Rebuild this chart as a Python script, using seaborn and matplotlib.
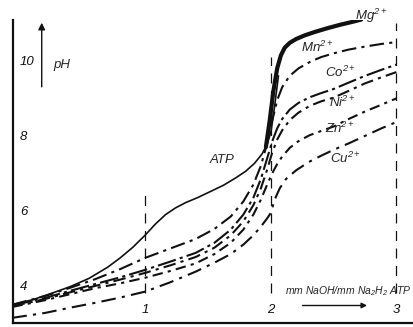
import matplotlib
matplotlib.use("Agg")
import matplotlib.pyplot as plt
import seaborn as sns

# ---- data (x = mm NaOH / mm Na2H2ATP, y = pH) ----
atp_x = [-0.06, 0.1, 0.25, 0.4, 0.55, 0.7, 0.8, 0.9, 1.0, 1.08, 1.16, 1.24, 1.32, 1.42,
         1.52, 1.62, 1.72, 1.8, 1.87, 1.93, 1.97, 2.0, 2.03, 2.06]
atp_ph = [3.5, 3.63, 3.8, 3.98, 4.2, 4.5, 4.75, 5.03, 5.36, 5.65, 5.9, 6.08, 6.22, 6.36,
          6.52, 6.68, 6.88, 7.06, 7.27, 7.52, 7.78, 8.1, 8.8, 9.6]

mg_x = [1.96, 1.99, 2.02, 2.05, 2.08, 2.11, 2.15, 2.2, 2.27, 2.35, 2.45, 2.55, 2.65, 2.72]
mg_ph = [7.7, 8.4, 9.2, 9.8, 10.15, 10.35, 10.48, 10.58, 10.68, 10.77, 10.87, 10.96, 11.04, 11.1]

# the metal curves share one set of read-off x positions
ion_x = [-0.06, 0.2, 0.4, 0.6, 0.8, 1.0, 1.2, 1.4, 1.55, 1.68, 1.78, 1.86, 1.92, 1.97,
         2.01, 2.05, 2.09, 2.15, 2.22, 2.31, 2.4, 2.5, 2.62, 2.75, 2.88, 3.0]
mn_ph = [3.5, 3.73, 3.95, 4.18, 4.45, 4.75, 5.0, 5.25, 5.52, 5.85, 6.25, 6.7, 7.2, 7.8,
         8.4, 8.95, 9.3, 9.6, 9.8, 9.97, 10.1, 10.2, 10.3, 10.38, 10.45, 10.5]
co_ph = [3.48, 3.68, 3.87, 4.05, 4.23, 4.43, 4.65, 4.88, 5.15, 5.5, 5.9, 6.35, 6.85, 7.4,
         7.85, 8.2, 8.45, 8.7, 8.88, 9.03, 9.14, 9.25, 9.42, 9.6, 9.76, 9.9]
ni_ph = [3.46, 3.65, 3.83, 4.0, 4.17, 4.35, 4.55, 4.77, 5.02, 5.35, 5.72, 6.15, 6.6, 7.1,
         7.55, 7.9, 8.15, 8.42, 8.62, 8.8, 8.92, 9.02, 9.2, 9.4, 9.56, 9.7]
zn_ph = [3.44, 3.62, 3.78, 3.94, 4.07, 4.22, 4.4, 4.6, 4.85, 5.15, 5.5, 5.9, 6.3, 6.7,
         7.0, 7.25, 7.45, 7.68, 7.86, 8.02, 8.13, 8.25, 8.45, 8.65, 8.83, 9.0]

cu_x = [-0.06, 0.2, 0.4, 0.6, 0.8, 1.0, 1.2, 1.4, 1.55, 1.68, 1.78, 1.86, 1.92, 1.97,
        2.0, 2.03, 2.07, 2.12, 2.2, 2.3, 2.4, 2.5, 2.62, 2.75, 2.88, 3.0]
cu_ph = [3.15, 3.28, 3.42, 3.55, 3.69, 3.85, 4.1, 4.38, 4.62, 4.85, 5.1, 5.35, 5.58, 5.8,
         5.95, 6.3, 6.6, 6.85, 7.08, 7.3, 7.47, 7.63, 7.8, 8.0, 8.2, 8.37]

# vertical guide lines at 1, 2, 3 equivalents (x, top pH)
guide_x = [1, 2, 3]
guide_top = [6.6, 10.1, 11.0]

# curve labels: (text, x, pH)
label_text = [r"Mg$^{2+}$", r"Mn$^{2+}$", r"Co$^{2+}$", r"Ni$^{2+}$", r"Zn$^{2+}$", r"Cu$^{2+}$", "ATP"]
label_x = [2.8, 2.37, 2.55, 2.57, 2.55, 2.59, 1.61]
label_ph = [11.2, 10.35, 9.7, 8.88, 8.2, 7.41, 7.36]

# ==================== plot ====================
sns.set_style("white")
plt.rcParams["font.family"] = ["Liberation Sans", "DejaVu Sans"]
plt.rcParams["font.style"] = "italic"
plt.rcParams["mathtext.fontset"] = "custom"
plt.rcParams["mathtext.it"] = "Liberation Sans:italic"
plt.rcParams["mathtext.rm"] = "Liberation Sans:italic"
plt.rcParams["mathtext.default"] = "it"

fig = plt.figure(figsize=(4.14, 3.27), dpi=100)
ax = fig.add_axes([0.031, 0.012, 0.969, 0.927])

ink = "#111111"
sns.lineplot(x=atp_x, y=atp_ph, ax=ax, color=ink, lw=1.2, linestyle="-")
sns.lineplot(x=mg_x, y=mg_ph, ax=ax, color=ink, lw=3.0, linestyle="-")
sns.lineplot(x=ion_x, y=mn_ph, ax=ax, color=ink, lw=1.5, linestyle=(0, (7, 2.5, 1.5, 2.5)))
sns.lineplot(x=ion_x, y=co_ph, ax=ax, color=ink, lw=1.5, linestyle=(0, (9, 2, 1.5, 2)))
sns.lineplot(x=ion_x, y=ni_ph, ax=ax, color=ink, lw=1.5, linestyle=(0, (6, 2.5, 1.5, 2.5)))
sns.lineplot(x=ion_x, y=zn_ph, ax=ax, color=ink, lw=1.5, linestyle=(0, (5, 2.5, 1.5, 2.5)))
sns.lineplot(x=cu_x, y=cu_ph, ax=ax, color=ink, lw=1.5, linestyle=(0, (7, 3, 1.5, 3)))

ax.set_xlim(-0.056, 3.14)
ax.set_ylim(3.01, 11.09)

for gx, gt in zip(guide_x, guide_top):
    ax.vlines(gx, 3.8, gt, colors=ink, lw=0.9, linestyles=(0, (8, 6)))

for t, lx, ly in zip(label_text, label_x, label_ph):
    ax.text(lx, ly, t, fontsize=9.5, ha="center", va="center", clip_on=False)

# axes styling
sns.despine(ax=ax)
ax.spines["left"].set_linewidth(1.6)
ax.spines["bottom"].set_linewidth(1.6)
ax.spines["left"].set_color(ink)
ax.spines["bottom"].set_color(ink)

ax.set_yticks([4, 5, 6, 7, 8, 9, 10])
ax.set_yticklabels(["4", "", "6", "", "8", "", "10"])
ax.tick_params(axis="y", direction="in", length=3, width=1, pad=-5, labelsize=9.5, colors=ink)
for lbl in ax.get_yticklabels():
    lbl.set_horizontalalignment("left")

ax.set_xticks(guide_x)
ax.set_xticklabels(["1", "2", "3"])
ax.tick_params(axis="x", direction="in", length=0, pad=-14, labelsize=9.5, colors=ink)

ax.set_xlabel("")
ax.set_ylabel("")

# pH arrow
ax.annotate("", xy=(0.072, 1.0), xytext=(0.072, 0.77), xycoords="axes fraction",
            arrowprops=dict(arrowstyle="-|>", color=ink, lw=1.0, mutation_scale=10))
ax.text(0.1, 0.85, "pH", transform=ax.transAxes, fontsize=9.5, ha="left", va="center")

# x-axis caption with arrow
ax.text(0.995, 0.105, r"mm NaOH/mm Na$_2$H$_2$ ATP", transform=ax.transAxes,
        fontsize=7.5, ha="right", va="center")
ax.annotate("", xy=(0.89, 0.058), xytext=(0.715, 0.058), xycoords="axes fraction",
            arrowprops=dict(arrowstyle="-|>", color=ink, lw=1.0, mutation_scale=8))

plt.savefig("out.png", dpi=100)
